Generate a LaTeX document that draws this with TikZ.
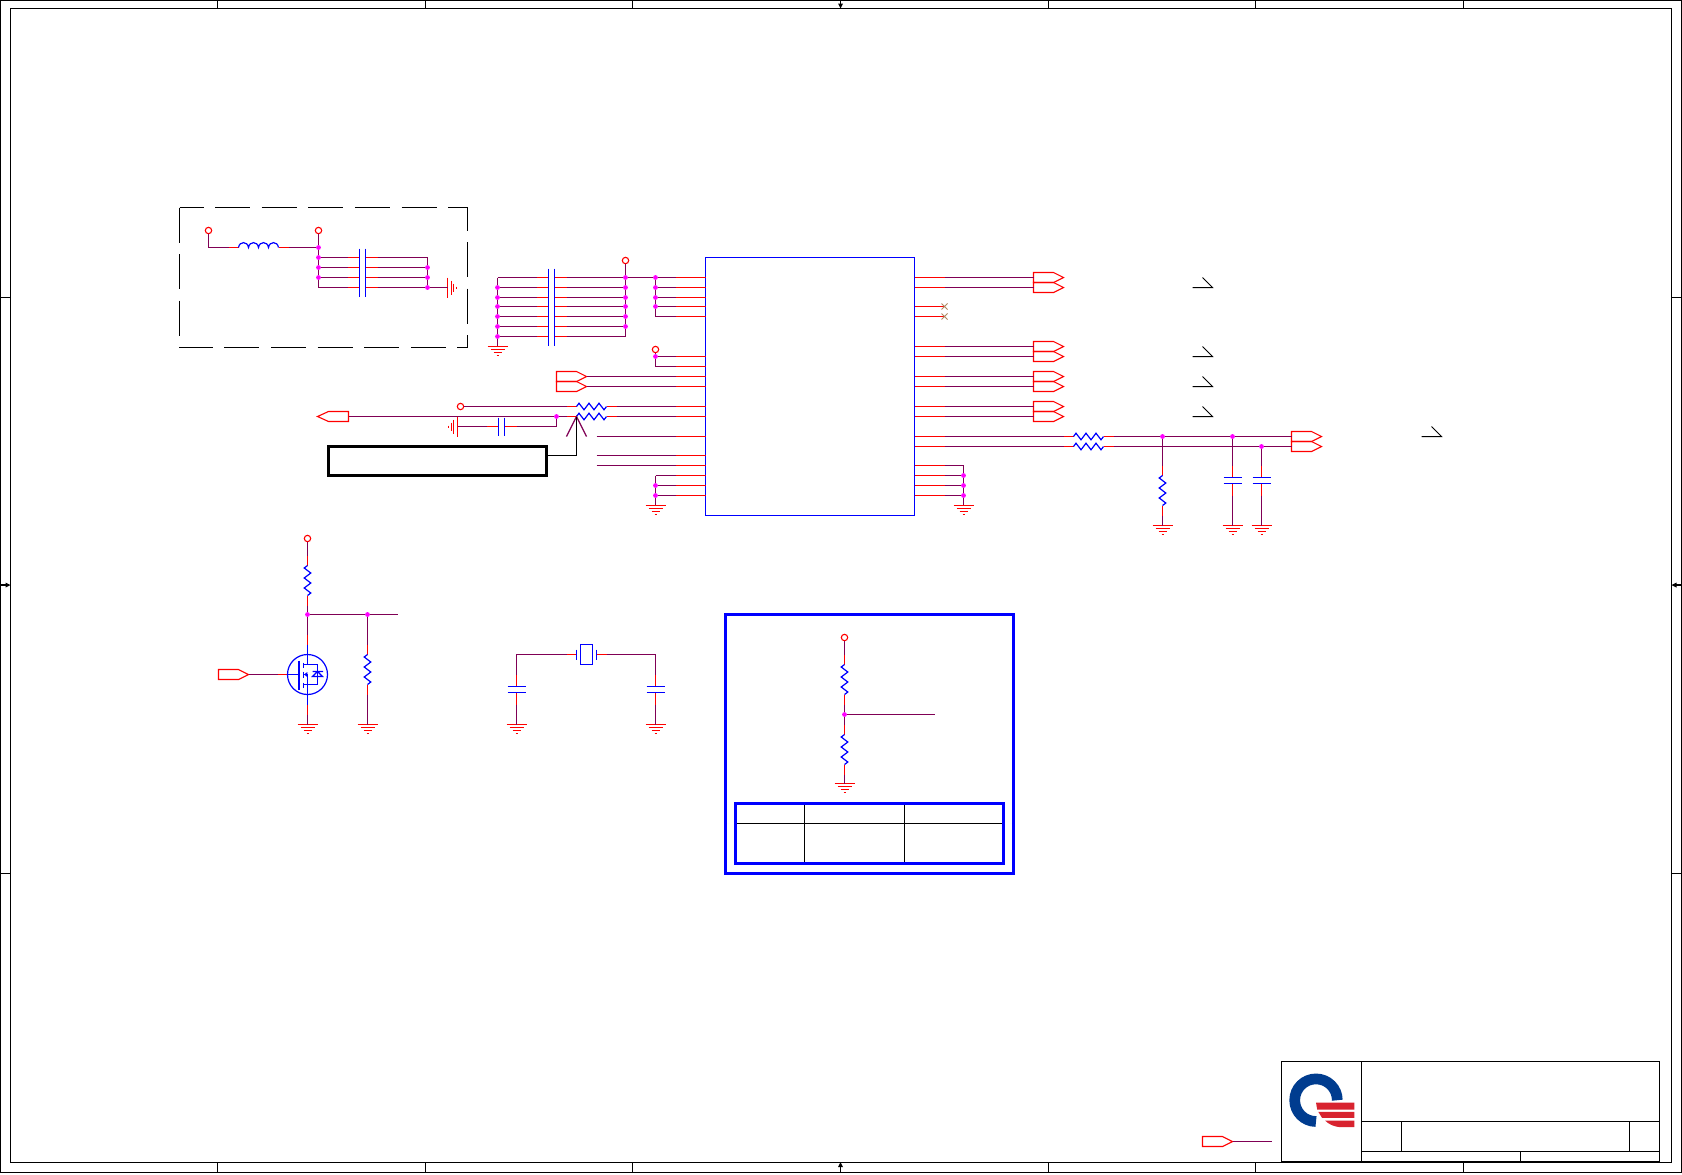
\documentclass[tikz,border=0pt]{standalone}
\definecolor{wirec}{HTML}{800055}
\definecolor{ncc}{HTML}{B08860}
\definecolor{logob}{HTML}{003C8F}
\definecolor{logor}{HTML}{D8232F}
\definecolor{jcol}{RGB}{255,0,255}
\tikzset{
  wire/.style={draw=wirec,line width=.55pt},
  stub/.style={draw=red,line width=.55pt},
  part/.style={draw=blue,line width=.6pt},
  frameln/.style={draw=black,line width=.55pt},
  vcc/.style={circle,draw=red,fill=white,line width=.55pt,minimum size=3.2pt,inner sep=0pt,outer sep=0pt},
  pics/hres/.style={code={
    \coordinate (-a) at (-10,0); \coordinate (-b) at (40,0);
    \draw[stub] (-a) -- (0,0) (30,0) -- (-b);
    \draw[part] (0,0) -- (2.5,-3.3) -- (7.5,3.3) -- (12.5,-3.3) -- (17.5,3.3) -- (22.5,-3.3) -- (27.5,3.3) -- (30,0);}},
  pics/vres/.style={code={
    \coordinate (-a) at (0,-10); \coordinate (-b) at (0,40);
    \draw[stub] (-a) -- (0,0) (0,30) -- (-b);
    \draw[part] (0,0) -- (-3.3,2.5) -- (3.3,7.5) -- (-3.3,12.5) -- (3.3,17.5) -- (-3.3,22.5) -- (3.3,27.5) -- (0,30);}},
  pics/hind/.style={code={
    \coordinate (-a) at (-10,0); \coordinate (-b) at (50,0);
    \draw[stub] (-a) -- (0,0) (40,0) -- (-b);
    \draw[part] (0,0) .. controls (1,-6.5) and (9,-6.5) .. (10,0) .. controls (11,-6.5) and (19,-6.5) .. (20,0)
       .. controls (21,-6.5) and (29,-6.5) .. (30,0) .. controls (31,-6.5) and (39,-6.5) .. (40,0);}},
  pics/hcap/.style={code={
    \coordinate (-a) at (-12,0); \coordinate (-b) at (18,0);
    \draw[stub] (-a) -- (0,0) (6,0) -- (-b);
    \draw[part] (0,-9) -- (0,9) (6,-9) -- (6,9);}},
  pics/vcap/.style={code={
    \coordinate (-a) at (0,-12); \coordinate (-b) at (0,18);
    \draw[stub] (-a) -- (0,0) (0,6) -- (-b);
    \draw[part] (-9,0) -- (9,0) (-9,6) -- (9,6);}},
  pics/gnddown/.style={code={
    \draw[stub] (-10,0) -- (10,0) (-7,3) -- (7,3) (-4,6) -- (4,6) (-1,9) -- (1,9);}},
  pics/gndright/.style={code={
    \draw[stub] (0,-10) -- (0,10) (4,-7) -- (4,7) (6,-4) -- (6,4) (9,-1) -- (9,1);}},
  pics/gndleft/.style={code={
    \draw[stub] (0,-10) -- (0,10) (-4,-7) -- (-4,7) (-6,-4) -- (-6,4) (-9,-1) -- (-9,1);}},
  pics/offr/.style={code={
    \coordinate (-a) at (0,0); \coordinate (-t) at (30,0);
    \draw[stub] (0,-5) -- (20,-5) -- (30,0) -- (20,5) -- (0,5) -- cycle;}},
  pics/offl/.style={code={
    \coordinate (-t) at (0,0); \coordinate (-a) at (31,0);
    \draw[stub] (0,0) -- (11,-5) -- (31,-5) -- (31,5) -- (11,5) -- cycle;}},
  pics/tickmark/.style={code={
    \draw[black,line width=.5pt] (-20,0) -- (0,0) -- (-10,-10);}},
  pics/xtal/.style={code={
    \coordinate (-a) at (-20,0); \coordinate (-b) at (20,0);
    \draw[stub] (-a) -- (-10,0) (10,0) -- (-b);
    \draw[part] (-10,-5) -- (-10,5) (10,-5) -- (10,5) (-6,-10) rectangle (6,10);}},
  pics/mosfet/.style={code={
    \coordinate (-g) at (-30,0); \coordinate (-d) at (0,-40); \coordinate (-s) at (0,40);
    \draw[stub] (-d) -- (0,-30) (-g) -- (-20,0) (-s) -- (0,30);
    \draw[part] (0,0) circle (10pt);
    \draw[part] (0,-30) -- (0,-10) (-4,-10) -- (10,-10) -- (10,10) -- (-4,10) (0,30) -- (0,0) -- (-4,0);
    \draw[part] (-20,0) -- (-8.5,0);
    \draw[blue,line width=1pt] (-8.5,-14) -- (-8.5,15);
    \draw[part] (-4,-12) -- (-4,-7) (-4,-3) -- (-4,3) (-4,8) -- (-4,13);
    \fill[blue] (-3.4,0) -- (-0.2,-2.5) -- (-0.2,2.5) -- cycle;
    \draw[part] (5,-3) -- (15.5,-3) (10,-3) -- (5,2) -- (15,2) -- cycle;}},
}
\newcommand{\jdot}[1]{\fill[jcol] #1 circle (1.2pt);}
\begin{document}
\begin{tikzpicture}[x=.5pt,y=-.5pt]
\useasboundingbox (0,1) rectangle (1682,1175);
\fill[white] (0,1) rectangle (1682,1175);

% ---- sheet frame
\draw[frameln] (0.5,1.5) rectangle (1681.5,1173.5);
\draw[frameln] (10.5,9.5) rectangle (1671.5,1163.5);
\foreach \x in {217.5,425.5,632.5,1048.5,1255.5,1463.5} {
  \draw[frameln] (\x,1.5) -- (\x,9.5) (\x,1163.5) -- (\x,1173.5);
}
\foreach \y in {298.5,874.5} {
  \draw[frameln] (0.5,\y) -- (10.5,\y) (1671.5,\y) -- (1681.5,\y);
}
\draw[frameln] (840.5,1.5) -- (840.5,5) (840.5,1168) -- (840.5,1173.5);
\draw[frameln] (0.5,586) -- (5.5,586) (1676,586) -- (1681.5,586);
\fill[black] (838,4.5) -- (843,4.5) -- (840.5,9.5) -- cycle;
\fill[black] (838,1168) -- (843,1168) -- (840.5,1163) -- cycle;
\fill[black] (5.5,583.5) -- (5.5,588.5) -- (10.5,586) -- cycle;
\fill[black] (1676.5,583.5) -- (1676.5,588.5) -- (1671.5,586) -- cycle;

% ---- dashed block
\draw[black,line width=.55pt,dash pattern=on 17.5pt off 5.8pt,dash phase=5.5pt] (179.5,208.5) -- (467.5,208.5);
\draw[black,line width=.55pt,dash pattern=on 17.5pt off 5.8pt,dash phase=.85pt] (179.5,348.5) -- (467.5,348.5);
\draw[black,line width=.55pt,dash pattern=on 17.5pt off 5.8pt,dash phase=0pt] (179.5,208.5) -- (179.5,348.5);
\draw[black,line width=.55pt,dash pattern=on 17.5pt off 5.8pt,dash phase=6pt] (467.5,208.5) -- (467.5,348.5);

% ---- supply pins
\node[vcc] (V1) at (208.5,231.5) {};
\node[vcc] (V2) at (318.5,231.5) {};
\node[vcc] (V3) at (625.5,261.5) {};
\node[vcc] (V4) at (655.5,350.5) {};
\node[vcc] (V5) at (460.5,407.5) {};
\node[vcc] (V6) at (307.5,539.5) {};
\node[vcc] (V7) at (844.5,638.5) {};

% ---- IC
\node[draw=blue,line width=.6pt,minimum width=104.5pt,minimum height=129pt,inner sep=0pt,outer sep=0pt] (U) at (810,387.5) {};
\foreach \n/\y in {1/278.5,2/288.5,3/298.5,4/307.5,5/317.5,6/357.5,7/367.5,8/377.5,9/387.5,10/407.5,11/417.5,12/437.5,13/456.5,14/466.5,15/476.5,16/486.5,17/496.5} {
  \coordinate (PL\n) at (675.5,\y);
  \draw[stub] (PL\n) -- (705.5,\y);
}
\foreach \n/\y in {1/278.5,2/288.5,3/307.5,4/317.5,5/347.5,6/357.5,7/377.5,8/387.5,9/407.5,10/417.5,11/437.5,12/447.5,13/466.5,14/476.5,15/486.5,16/496.5} {
  \coordinate (PR\n) at (944.5,\y);
  \draw[stub] (914.5,\y) -- (PR\n);
}
\foreach \y in {307.5,317.5} {
  \draw[ncc,line width=.5pt] (941.5,\y-3) -- (947.5,\y+3) (941.5,\y+3) -- (947.5,\y-3);
}

% ---- left block: L and C bank
\pic (L1) at (238.5,248.5) {hind};
\coordinate (N1) at (318.5,248.5);
\coordinate (N2) at (318.5,288.5);
\coordinate (N3) at (427.5,258.5);
\coordinate (N4) at (427.5,288.5);
\draw[wire] (V1.south) |- (L1-a);
\draw[wire] (L1-b) -- (N1);
\draw[wire] (V2.south) -- (N2);
\draw[wire] (N3) -- (N4);
\pic (G1) at (447.5,288.5) {gndright};
\draw[wire] (N4) -- (447.5,288.5);
\foreach \n/\y in {1/258.5,2/268.5,3/278.5,4/288.5} {
  \pic (CA\n) at (359.5,\y) {hcap};
  \draw[wire] (318.5,\y) -- (CA\n-a);
  \draw[wire] (CA\n-b) -- (427.5,\y);
}

% ---- second C bank
\coordinate (M1a) at (497.5,278.5);
\coordinate (M1b) at (497.5,347.5);
\coordinate (M2b) at (625.5,337.5);
\draw[wire] (M1a) -- (M1b);
\draw[wire] (V3.south) -- (M2b);
\pic (G2) at (497.5,347.5) {gnddown};
\foreach \n/\y in {1/278.5,2/288.5,3/298.5,4/307.5,5/317.5,6/327.5,7/337.5} {
  \pic (CB\n) at (548.5,\y) {hcap};
  \draw[wire] (497.5,\y) -- (CB\n-a);
  \draw[wire] (CB\n-b) -- (625.5,\y);
}
\draw[wire] (625.5,278.5) -- (PL1);
\draw[wire] (655.5,278.5) -- (655.5,317.5);
\foreach \n/\y in {2/288.5,3/298.5,4/307.5,5/317.5} {
  \draw[wire] (655.5,\y) -- (PL\n);
}
\draw[wire] (V4.south) |- (PL7);
\draw[wire] (655.5,357.5) -- (PL6);

% ---- left connectors and series resistors
\pic (OL1) at (556.5,377.5) {offr};
\pic (OL2) at (556.5,387.5) {offr};
\draw[wire] (OL1-t) -- (PL8);
\draw[wire] (OL2-t) -- (PL9);
\pic (R1) at (576.5,407.5) {hres};
\pic (R2) at (576.5,417.5) {hres};
\draw[wire] (V5.east) -- (R1-a);
\draw[wire] (R1-b) -- (PL10);
\draw[wire] (R2-b) -- (PL11);
\pic (OL3) at (317.5,417.5) {offl};
\draw[wire] (OL3-a) -- (R2-a);
\coordinate (J1) at (556.5,417.5);
\pic (C5) at (498.5,427.5) {hcap};
\draw[wire] (J1) |- (C5-b);
\pic (G3) at (457.5,427.5) {gndleft};
\draw[wire] (C5-a) -- (457.5,427.5);
\coordinate (F1) at (596.5,437.5);
\coordinate (F2) at (596.5,456.5);
\coordinate (F3) at (596.5,466.5);
\draw[wire] (F1) -- (PL12);
\draw[wire] (F2) -- (PL13);
\draw[wire] (F3) -- (PL14);

% ---- callout
\coordinate (Lam) at (576.5,417.5);
\coordinate (LamA) at (566.5,437.5);
\coordinate (LamB) at (586.5,437.5);
\coordinate (LamFoot) at (576.5,456.5);
\draw[wirec,line width=.6pt] (LamA) -- (Lam) -- (LamB);
\node[draw=black,fill=white,line width=1.5pt,minimum width=109pt,minimum height=14.5pt,inner sep=0pt,outer sep=0pt] (BOX) at (437.5,462) {};
\draw[black,line width=.55pt] (LamFoot -| BOX.east) -- (LamFoot) -- (Lam);

% ---- IC bottom grounds
\draw[wire] (655.5,476.5) -- (655.5,506.5);
\draw[wire] (963.5,466.5) -- (963.5,506.5);
\pic (G4) at (655.5,506.5) {gnddown};
\pic (G5) at (963.5,506.5) {gnddown};
\foreach \n/\y in {15/476.5,16/486.5,17/496.5} {
  \draw[wire] (655.5,\y) -- (PL\n);
}
\foreach \n/\y in {13/466.5,14/476.5,15/486.5,16/496.5} {
  \draw[wire] (PR\n) -- (963.5,\y);
}

% ---- right connectors
\foreach \n/\y in {1/278.5,2/288.5,5/347.5,6/357.5,7/377.5,8/387.5,9/407.5,10/417.5} {
  \pic (OR\n) at (1033.5,\y) {offr};
  \draw[wire] (PR\n) -- (OR\n-a);
}
\foreach \n/\y in {1/288.5,2/357.5,3/387.5,4/417.5} {
  \pic (T\n) at (1212.5,\y) {tickmark};
}
\pic (T5) at (1441.5,437.5) {tickmark};

% ---- right resistors and filter
\pic (R3) at (1073.5,437.5) {hres};
\pic (R4) at (1073.5,447.5) {hres};
\pic (OR11) at (1291.5,437.5) {offr};
\pic (OR12) at (1291.5,447.5) {offr};
\draw[wire] (PR11) -- (R3-a);
\draw[wire] (PR12) -- (R4-a);
\draw[wire] (R3-b) -- (OR11-a);
\draw[wire] (R4-b) -- (OR12-a);
\coordinate (J2) at (1162.5,437.5);
\coordinate (J3) at (1232.5,437.5);
\coordinate (J4) at (1261.5,447.5);
\pic (R5) at (1162.5,476.5) {vres};
\pic (C1) at (1232.5,478.5) {vcap};
\pic (C2) at (1261.5,478.5) {vcap};
\pic (G6) at (1162.5,526.5) {gnddown};
\pic (G7) at (1232.5,526.5) {gnddown};
\pic (G8) at (1261.5,526.5) {gnddown};
\draw[wire] (J2) -- (R5-a);
\draw[wire] (R5-b) -- (1162.5,526.5);
\draw[wire] (J3) -- (C1-a);
\draw[wire] (C1-b) -- (1232.5,526.5);
\draw[wire] (J4) -- (C2-a);
\draw[wire] (C2-b) -- (1261.5,526.5);

% ---- MOSFET stage
\pic (R6) at (307.5,566.5) {vres};
\pic (Q1) at (307.5,675.5) {mosfet};
\pic (R7) at (367.5,655.5) {vres};
\pic (OL4) at (218.5,675.5) {offr};
\pic (G9) at (307.5,725.5) {gnddown};
\pic (G10) at (367.5,725.5) {gnddown};
\coordinate (J5) at (307.5,615.5);
\coordinate (J6) at (367.5,615.5);
\coordinate (E1) at (397.5,615.5);
\draw[wire] (V6.south) -- (R6-a);
\draw[wire] (R6-b) -- (J5);
\draw[wire] (J5) -- (Q1-d);
\draw[wire] (J5) -- (E1);
\draw[wire] (J6) -- (R7-a);
\draw[wire] (R7-b) -- (367.5,725.5);
\draw[wire] (Q1-s) -- (307.5,725.5);
\draw[wire] (OL4-t) -- (Q1-g);

% ---- crystal
\pic (X1) at (586.5,655.5) {xtal};
\pic (C6) at (516.5,687.5) {vcap};
\pic (C7) at (655.5,687.5) {vcap};
\pic (G11) at (516.5,725.5) {gnddown};
\pic (G12) at (655.5,725.5) {gnddown};
\draw[wire] (X1-a) -| (C6-a);
\draw[wire] (X1-b) -| (C7-a);
\draw[wire] (C6-b) -- (516.5,725.5);
\draw[wire] (C7-b) -- (655.5,725.5);

% ---- option box
\node[draw=blue,line width=1.5pt,minimum width=144pt,minimum height=129.5pt,inner sep=0pt,outer sep=0pt] (BB) at (869.5,745) {};
\pic (R8) at (844.5,665.5) {vres};
\pic (R9) at (844.5,735.5) {vres};
\pic (G13) at (844.5,784.5) {gnddown};
\coordinate (J7) at (844.5,715.5);
\coordinate (E2) at (934.5,715.5);
\draw[wire] (V7.south) -- (R8-a);
\draw[wire] (R8-b) -- (J7);
\draw[wire] (J7) -- (R9-a);
\draw[wire] (R9-b) -- (844.5,784.5);
\draw[wire] (J7) -- (E2);
\draw[black,line width=.55pt] (804.5,804.5) -- (804.5,864.5) (904.5,804.5) -- (904.5,864.5) (735.5,824.5) -- (1003.5,824.5);
\node[draw=blue,line width=1.5pt,minimum width=134pt,minimum height=30pt,inner sep=0pt,outer sep=0pt] (TB) at (869.5,834.5) {};

% ---- title block
\draw[frameln] (1281.5,1062.5) rectangle (1659.5,1162.5);
\draw[frameln] (1361.5,1062.5) -- (1361.5,1162.5);
\draw[frameln] (1361.5,1122.5) -- (1659.5,1122.5);
\draw[frameln] (1361.5,1152.5) -- (1659.5,1152.5);
\draw[frameln] (1401.5,1122.5) -- (1401.5,1152.5);
\draw[frameln] (1629.5,1122.5) -- (1629.5,1152.5);
\draw[frameln] (1520.5,1152.5) -- (1520.5,1162.5);
\pic (OL5) at (1202.5,1142.5) {offr};
\coordinate (E3) at (1271.5,1142.5);
\draw[wire] (OL5-t) -- (E3);

% ---- logo
\draw[logob,line width=5.35pt] (1337.3,1101.2)
  .. controls (1337.3,1089.4) and (1327.8,1079.9) .. (1316,1079.9)
  .. controls (1304.2,1079.9) and (1294.7,1089.4) .. (1294.7,1101.2)
  .. controls (1294.7,1113) and (1304.2,1122.5) .. (1316,1122.5);
\fill[logor] (1316,1103.5) -- (1354.3,1103.5) -- (1354.3,1110.5) -- (1317.2,1110.5) -- cycle;
\fill[logor] (1318.3,1112.8) -- (1354.3,1112.8) -- (1354.3,1118.8) -- (1322,1118.8) -- cycle;
\fill[logor] (1325,1121.5) -- (1354.3,1121.5) -- (1354.3,1128.2) -- (1340,1128.2) .. controls (1334,1127.5) and (1329,1125.5) .. (1325,1121.5) -- cycle;

% ---- junction dots
\jdot{(N1)}
\foreach \y in {258.5,268.5,278.5} {\jdot{(318.5,\y)}}
\foreach \y in {268.5,278.5,288.5} {\jdot{(427.5,\y)}}
\foreach \y in {288.5,298.5,307.5,317.5,327.5,337.5} {\jdot{(497.5,\y)}}
\foreach \y in {278.5,288.5,298.5,307.5,317.5,327.5} {\jdot{(625.5,\y)}}
\foreach \y in {278.5,288.5,298.5,307.5} {\jdot{(655.5,\y)}}
\foreach \y in {357.5,486.5,496.5} {\jdot{(655.5,\y)}}
\foreach \y in {476.5,486.5,496.5} {\jdot{(963.5,\y)}}
\jdot{(J1)} \jdot{(J2)} \jdot{(J3)} \jdot{(J4)} \jdot{(J5)} \jdot{(J6)} \jdot{(J7)}
\end{tikzpicture}
\end{document}
